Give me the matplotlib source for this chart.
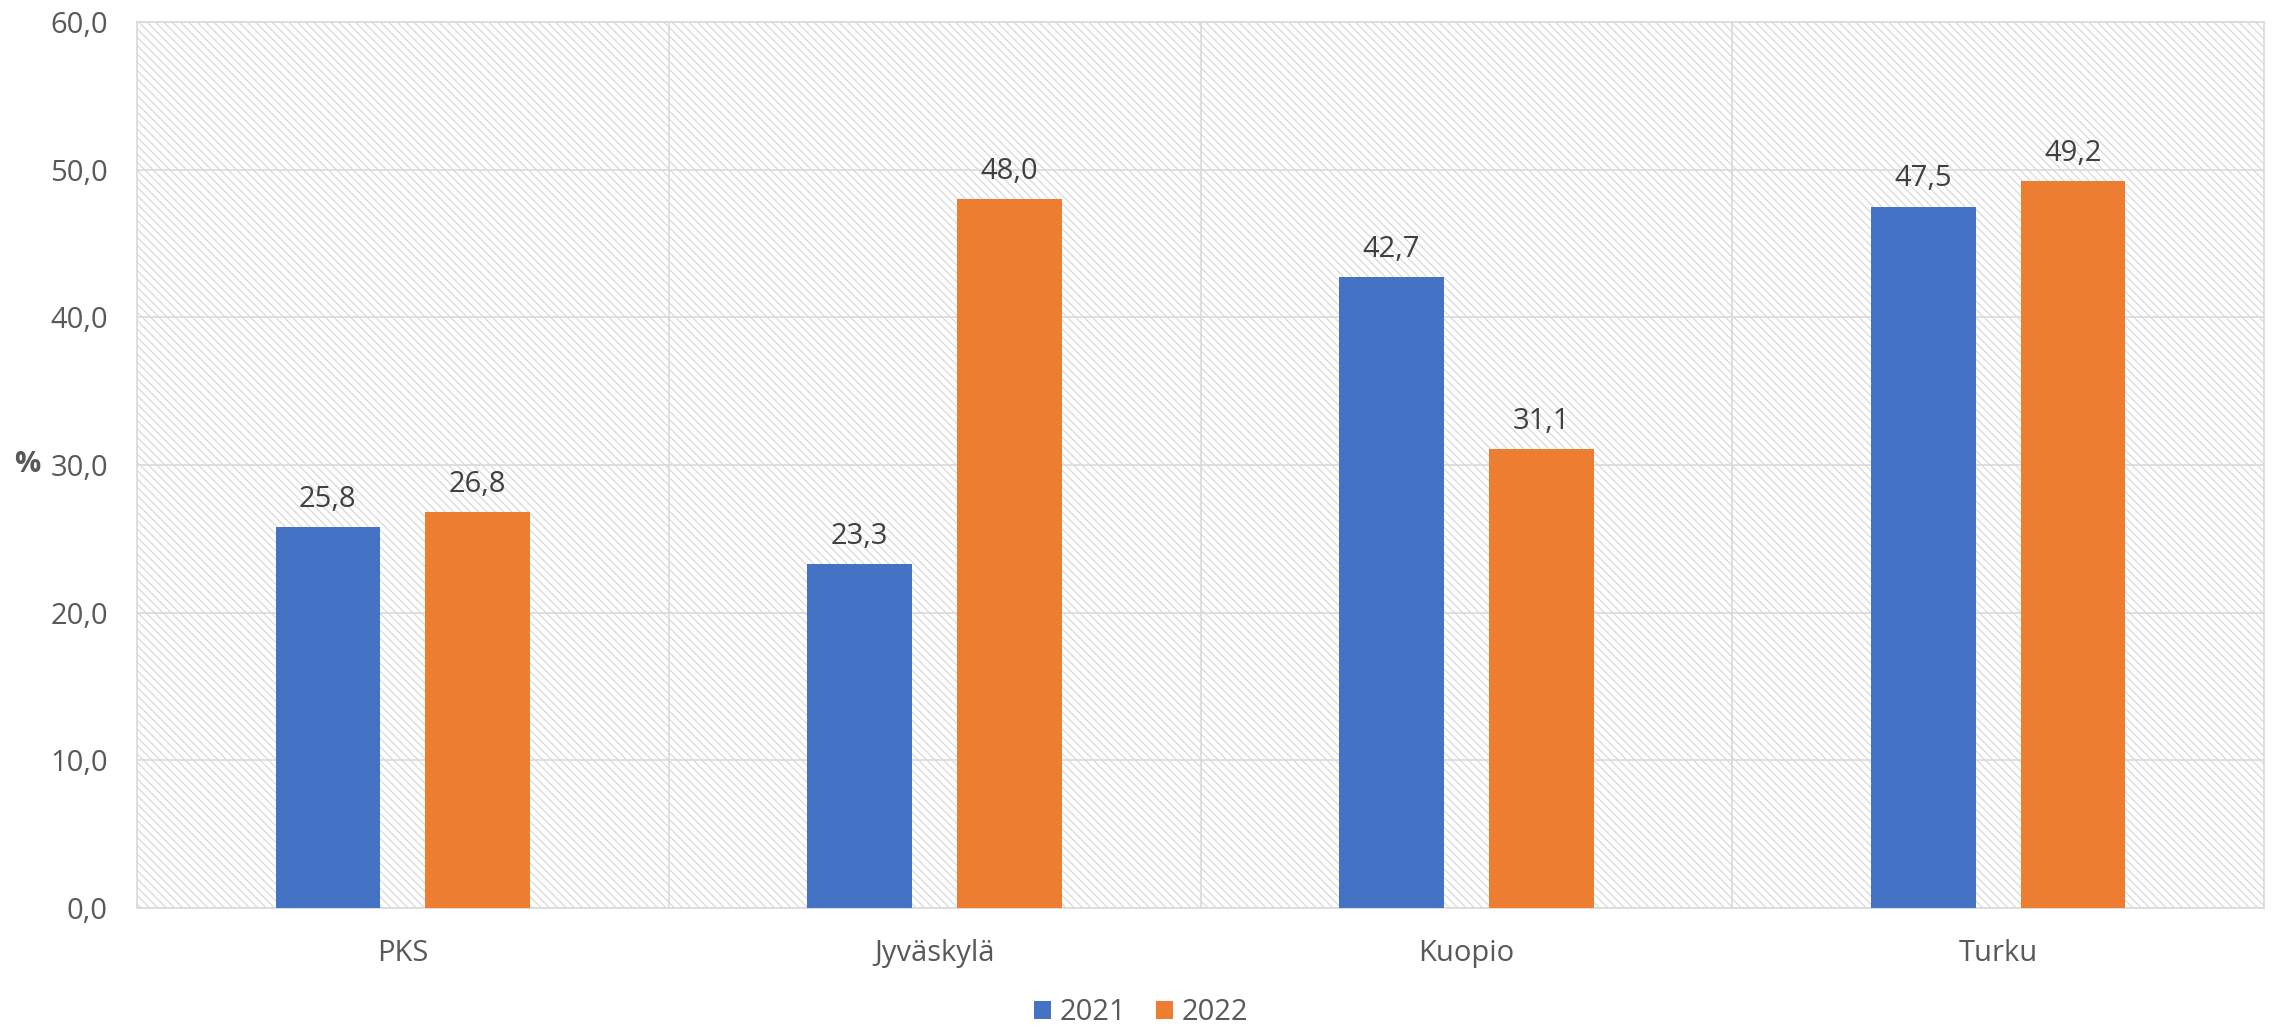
import matplotlib
matplotlib.use("Agg")
import matplotlib.pyplot as plt
from matplotlib.patches import Rectangle
from matplotlib.ticker import FuncFormatter, FixedLocator
import numpy as np

categories = ["PKS", "Jyväskylä", "Kuopio", "Turku"]
series_names = ["2021", "2022"]
values_2021 = [25.8, 23.3, 42.7, 47.5]
values_2022 = [26.8, 48.0, 31.1, 49.2]
y_ticks = [0, 10, 20, 30, 40, 50, 60]
colors = ["#4472C4", "#ED7D31"]

plt.rcParams['font.family'] = ['Open Sans', 'DejaVu Sans']
plt.rcParams['hatch.color'] = '#d9d9d9'
plt.rcParams['hatch.linewidth'] = 0.9

fig = plt.figure(figsize=(22.8, 10.27), dpi=100)
ax = fig.add_axes([137/2280, 1-908/1027, (2264-137)/2280, (908-22)/1027])

x = np.arange(len(categories))
w = 0.197
off = 0.141
grey = '#595959'
fs = 21

# hatched plot area background
ax.add_patch(Rectangle((0, 0), 1, 1, transform=ax.transAxes, facecolor='white',
                       edgecolor='#d9d9d9', hatch='\\\\\\\\', linewidth=0, zorder=0))

bars1 = ax.bar(x - off, values_2021, w, color=colors[0], label=series_names[0], zorder=3)
bars2 = ax.bar(x + off, values_2022, w, color=colors[1], label=series_names[1], zorder=3)

for bars, vals in ((bars1, values_2021), (bars2, values_2022)):
    for b, v in zip(bars, vals):
        ax.annotate(f"{v:.1f}".replace('.', ','), (b.get_x() + b.get_width()/2, v),
                    xytext=(0, 9.5), textcoords='offset points', ha='center', va='bottom',
                    fontsize=fs, color='#404040', zorder=4)

ax.set_xlim(-0.5, len(categories) - 0.5)
ax.set_ylim(0, 60)
ax.set_yticks(y_ticks)
ax.yaxis.set_major_formatter(FuncFormatter(lambda v, p: f"{v:.1f}".replace('.', ',')))
ax.set_xticks(x)
ax.set_xticklabels(categories)
ax.xaxis.set_minor_locator(FixedLocator([0.5, 1.5, 2.5]))

ax.tick_params(axis='both', which='both', length=0, labelsize=fs, colors=grey)
ax.tick_params(axis='y', pad=21)
ax.tick_params(axis='x', pad=22)

ax.grid(axis='y', which='major', color='#d9d9d9', linewidth=1.2, zorder=1)
ax.grid(axis='x', which='minor', color='#d9d9d9', linewidth=1.2, zorder=1)
ax.grid(axis='x', which='major', visible=False)
ax.set_axisbelow(True)
for s in ax.spines.values():
    s.set_color('#d9d9d9')
    s.set_linewidth(1.2)

ax.set_ylabel('%', rotation=0, fontsize=fs, color=grey, fontweight='bold')
ax.yaxis.set_label_coords(-0.0517, 0.5, transform=ax.transAxes)
ax.yaxis.label.set_verticalalignment('center')
ax.yaxis.label.set_horizontalalignment('center')

leg = fig.legend(loc='center', bbox_to_anchor=(1141/2280, 1-1013/1027), ncol=2, frameon=False,
                 fontsize=fs, handlelength=0.6, handleheight=0.6, handletextpad=0.3,
                 columnspacing=1.0, labelcolor=grey)

fig.savefig('out.png', dpi=100)
